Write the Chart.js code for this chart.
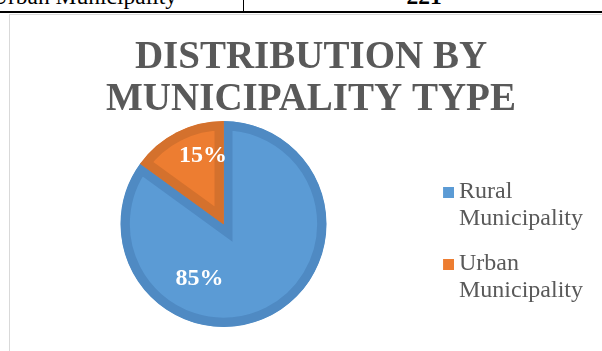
<!DOCTYPE html>
<html lang="en">
<head>
<meta charset="UTF-8">
<title>Distribution by Municipality Type</title>
<script src="https://cdn.jsdelivr.net/npm/chart.js@4.4.0/dist/chart.umd.min.js"></script>
<style>
  html, body { margin: 0; width: 602px; height: 351px; overflow: hidden; background: #fff; }
  body { position: relative; font-family: "Liberation Serif", "Times New Roman", serif; }
  .row { position: absolute; left: 0; top: 0; width: 602px; height: 11px; overflow: hidden; border-bottom: 2px solid #000; }
  .row span { position: absolute; top: -15px; font-size: 23.5px; line-height: 23.5px; color: #000; white-space: nowrap; }
  .row .name { left: -9px; }
  .row .count { left: 244px; width: 360px; text-align: center; font-weight: bold; }
  .row .sep { position: absolute; left: 243px; top: 0; width: 1px; height: 11px; background: #000; }
  .frame { position: absolute; left: 9px; top: 14px; width: 610px; height: 360px; border-left: 1px solid #d9d9d9; border-top: 1px solid #d9d9d9; }
  .frame canvas { position: absolute; left: 0; top: 0; }
</style>
</head>
<body>
  <div class="row">
    <span class="name">Urban Municipality</span>
    <div class="sep"></div>
    <span class="count">221</span>
  </div>
  <div class="frame">
    <canvas id="chart" width="604" height="350"></canvas>
  </div>

  <script>
    const titleLines = ['DISTRIBUTION BY', 'MUNICIPALITY TYPE'];
    const categories = [['Rural', 'Municipality'], ['Urban', 'Municipality']];
    const shares = [85, 15];
    const sliceColors = ['#5b9bd5', '#ed7d31'];
    const edgeColors = ['#4f8ac3', '#d4712d'];

    // small square sitting at the right end of a wider transparent strip,
    // so the gap between swatch and text is tighter than chart.js default
    function legendSwatch(color) {
      const c = document.createElement('canvas');
      c.width = 25;
      c.height = 11;
      const g = c.getContext('2d');
      g.fillStyle = color;
      g.fillRect(14, 0, 11, 11);
      return c;
    }

    // percent labels inside the slices
    const sliceLabels = {
      id: 'sliceLabels',
      afterDatasetsDraw(chart, args, opts) {
        const ctx = chart.ctx;
        const meta = chart.getDatasetMeta(0);
        const values = chart.data.datasets[0].data;
        const total = values.reduce((a, b) => a + b, 0);
        ctx.save();
        ctx.fillStyle = opts.color;
        ctx.font = opts.font;
        ctx.textAlign = 'center';
        ctx.textBaseline = 'middle';
        meta.data.forEach((arc, i) => {
          const p = arc.getProps(['x', 'y', 'startAngle', 'endAngle', 'outerRadius'], true);
          const a = (p.startAngle + p.endAngle) / 2 + opts.shift[i] * Math.PI / 180;
          const r = p.outerRadius * opts.dist[i];
          ctx.fillText(Math.round(values[i] / total * 100) + '%', p.x + Math.cos(a) * r, p.y + Math.sin(a) * r);
        });
        ctx.restore();
      }
    };

    new Chart(document.getElementById('chart'), {
      type: 'pie',
      data: {
        labels: categories,
        datasets: [{
          data: shares,
          backgroundColor: sliceColors,
          borderColor: edgeColors,
          borderWidth: 9,
          borderAlign: 'inner',
          borderJoinStyle: 'miter',
          hoverOffset: 0
        }]
      },
      options: {
        responsive: false,
        animation: false,
        events: [],
        layout: { padding: { left: 19, right: 21, bottom: 38 } },
        plugins: {
          title: {
            display: true,
            text: titleLines,
            color: '#595959',
            font: { family: 'Liberation Serif', size: 39, weight: 'bold', lineHeight: 1.077 },
            padding: { top: 22, bottom: 0 }
          },
          legend: {
            position: 'right',
            align: 'start',
            // empty title only used to push the entries down
            title: { display: true, text: '', font: { size: 1, lineHeight: 1 }, padding: { top: 146, bottom: 0 } },
            labels: {
              usePointStyle: true,
              boxWidth: 11,
              boxHeight: 11,
              color: '#595959',
              padding: 18,
              font: { family: 'Liberation Serif', size: 24, lineHeight: 1.125 },
              generateLabels(chart) {
                const base = Chart.overrides.doughnut.plugins.legend.labels.generateLabels(chart);
                return base.map(item => ({ ...item, pointStyle: legendSwatch(item.fillStyle), lineWidth: 0 }));
              }
            }
          },
          tooltip: { enabled: false },
          sliceLabels: {
            color: '#ffffff',
            font: 'bold 24px "Liberation Serif"',
            shift: [50.5, 10.2],
            dist: [0.585, 0.69]
          }
        }
      },
      plugins: [sliceLabels]
    });
  </script>
</body>
</html>
